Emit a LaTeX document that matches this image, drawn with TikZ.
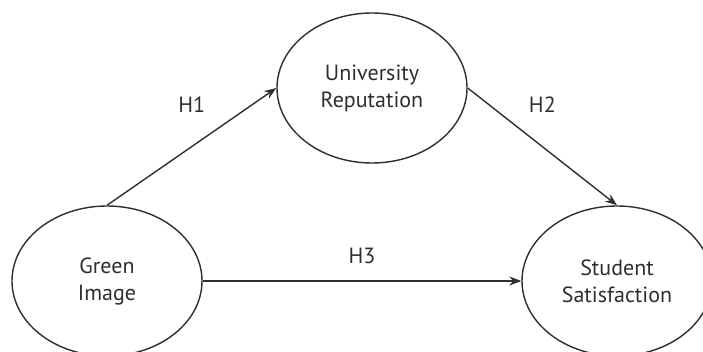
\documentclass[tikz,border=0pt]{standalone}
\usepackage{fontspec}
\setmainfont{PT Sans}
\usetikzlibrary{shapes.geometric,arrows.meta}
\definecolor{ink}{HTML}{2e2e2e}
\tikzset{
  construct/.style={draw=ink,ellipse,line width=1.4pt,minimum width=190pt,minimum height=150pt,inner sep=0pt,align=center,text=ink,font=\fontsize{22}{27}\selectfont},
  path/.style={draw=ink,line width=1.4pt,-{Stealth[length=12pt,width=9pt]}},
  hyp/.style={text=ink,font=\fontsize{22}{27}\selectfont}
}
\begin{document}
\begin{tikzpicture}[x=1pt,y=-1pt]
    \useasboundingbox (0,0) rectangle (703,352);
    \node[construct] (green) at (107,281) {Green\\Image};
    \node[construct] (univ) at (372,88) {University\\Reputation};
    \node[construct] (student) at (617,281) {Student\\Satisfaction};
    \draw[path] (green.north)--node[hyp,yshift=42pt] (h1) {H1} (univ.west);
    \draw[path] (univ.east)--node[hyp,yshift=42pt] (h2) {H2} (student.north);
    \draw[path] (green.east)--node[hyp,yshift=25pt] (h3) {H3} (student.west);
\end{tikzpicture}
\end{document}
